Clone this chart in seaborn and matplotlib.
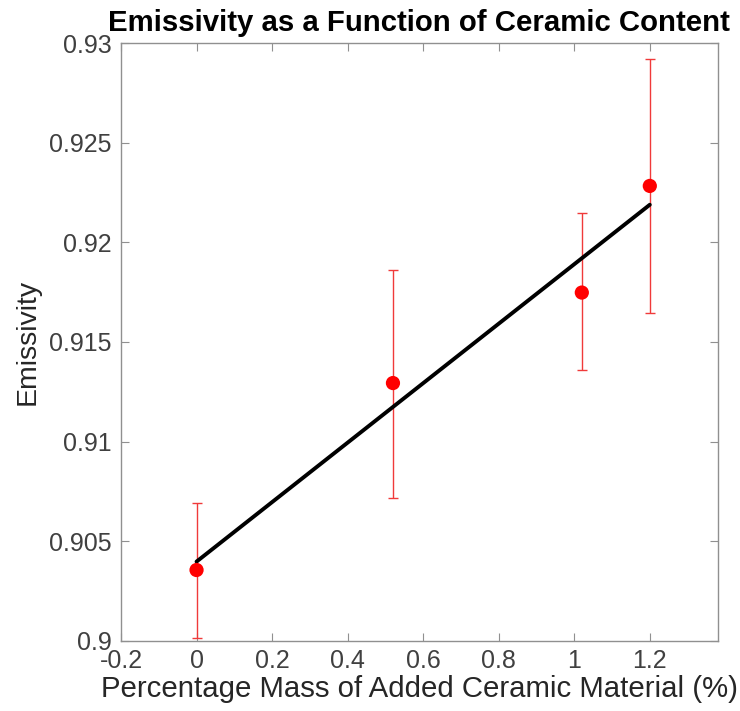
import matplotlib

matplotlib.use("Agg")
import matplotlib.pyplot as plt
import numpy as np
import pandas as pd
import seaborn as sns

# Data
ceramic_pct = [0.0, 0.52, 1.02, 1.2]
emissivity = [0.90356, 0.91294, 0.91748, 0.92283]
err_low = [0.90017, 0.90718, 0.91360, 0.91647]
err_high = [0.90694, 0.91861, 0.92146, 0.92919]

x_ticks = [-0.2, 0, 0.2, 0.4, 0.6, 0.8, 1, 1.2]
x_tick_labels = ["-0.2", "0", "0.2", "0.4", "0.6", "0.8", "1", "1.2"]
y_ticks = [0.9, 0.905, 0.91, 0.915, 0.92, 0.925, 0.93]
y_tick_labels = ["0.9", "0.905", "0.91", "0.915", "0.92", "0.925", "0.93"]

sns.set_theme(style="white")
plt.rcParams["font.family"] = ["Liberation Sans", "DejaVu Sans"]

df = pd.DataFrame({"x": ceramic_pct, "y": emissivity})
yerr = np.array([
    np.array(emissivity) - np.array(err_low),
    np.array(err_high) - np.array(emissivity),
])

fig = plt.figure(figsize=(7.4, 7.11), dpi=100)
ax = fig.add_axes([0.1635, 0.0985, 0.8065, 0.841])

# error bars
ax.errorbar(
    df["x"], df["y"], yerr=yerr, fmt="none",
    ecolor="#f03a3a", elinewidth=1.0, capsize=3.8, capthick=1.0, zorder=2,
)

# linear fit
sns.regplot(
    data=df, x="x", y="y", ax=ax, scatter=False, ci=None,
    line_kws={"color": "black", "linewidth": 2.8, "zorder": 3},
)

# data points
sns.scatterplot(
    data=df, x="x", y="y", ax=ax, color="#ff0000", s=105,
    edgecolor="none", zorder=4,
)

ax.set_xlim(-0.2, 1.38)
ax.set_ylim(0.9, 0.93)
ax.set_xticks(x_ticks)
ax.set_xticklabels(x_tick_labels)
ax.set_yticks(y_ticks)
ax.set_yticklabels(y_tick_labels)

ax.tick_params(
    axis="both", which="both", direction="in", length=6, width=0.8,
    colors="#909090", labelcolor="#404040", labelsize=18,
    top=True, right=True, bottom=True, left=True,
)
ax.tick_params(axis="y", pad=7)
ax.tick_params(axis="x", pad=6)
for spine in ax.spines.values():
    spine.set_color("#909090")
    spine.set_linewidth(1.0)

ax.set_xlabel("Percentage Mass of Added Ceramic Material (%)",
              fontsize=21.2, color="#262626", labelpad=1)
ax.set_ylabel("Emissivity", fontsize=20.5, color="#262626", labelpad=6)
ax.set_title("Emissivity as a Function of Ceramic Content",
             fontsize=21.2, fontweight="bold", color="black", pad=9)

fig.savefig("out.png", dpi=100)
plt.close(fig)
